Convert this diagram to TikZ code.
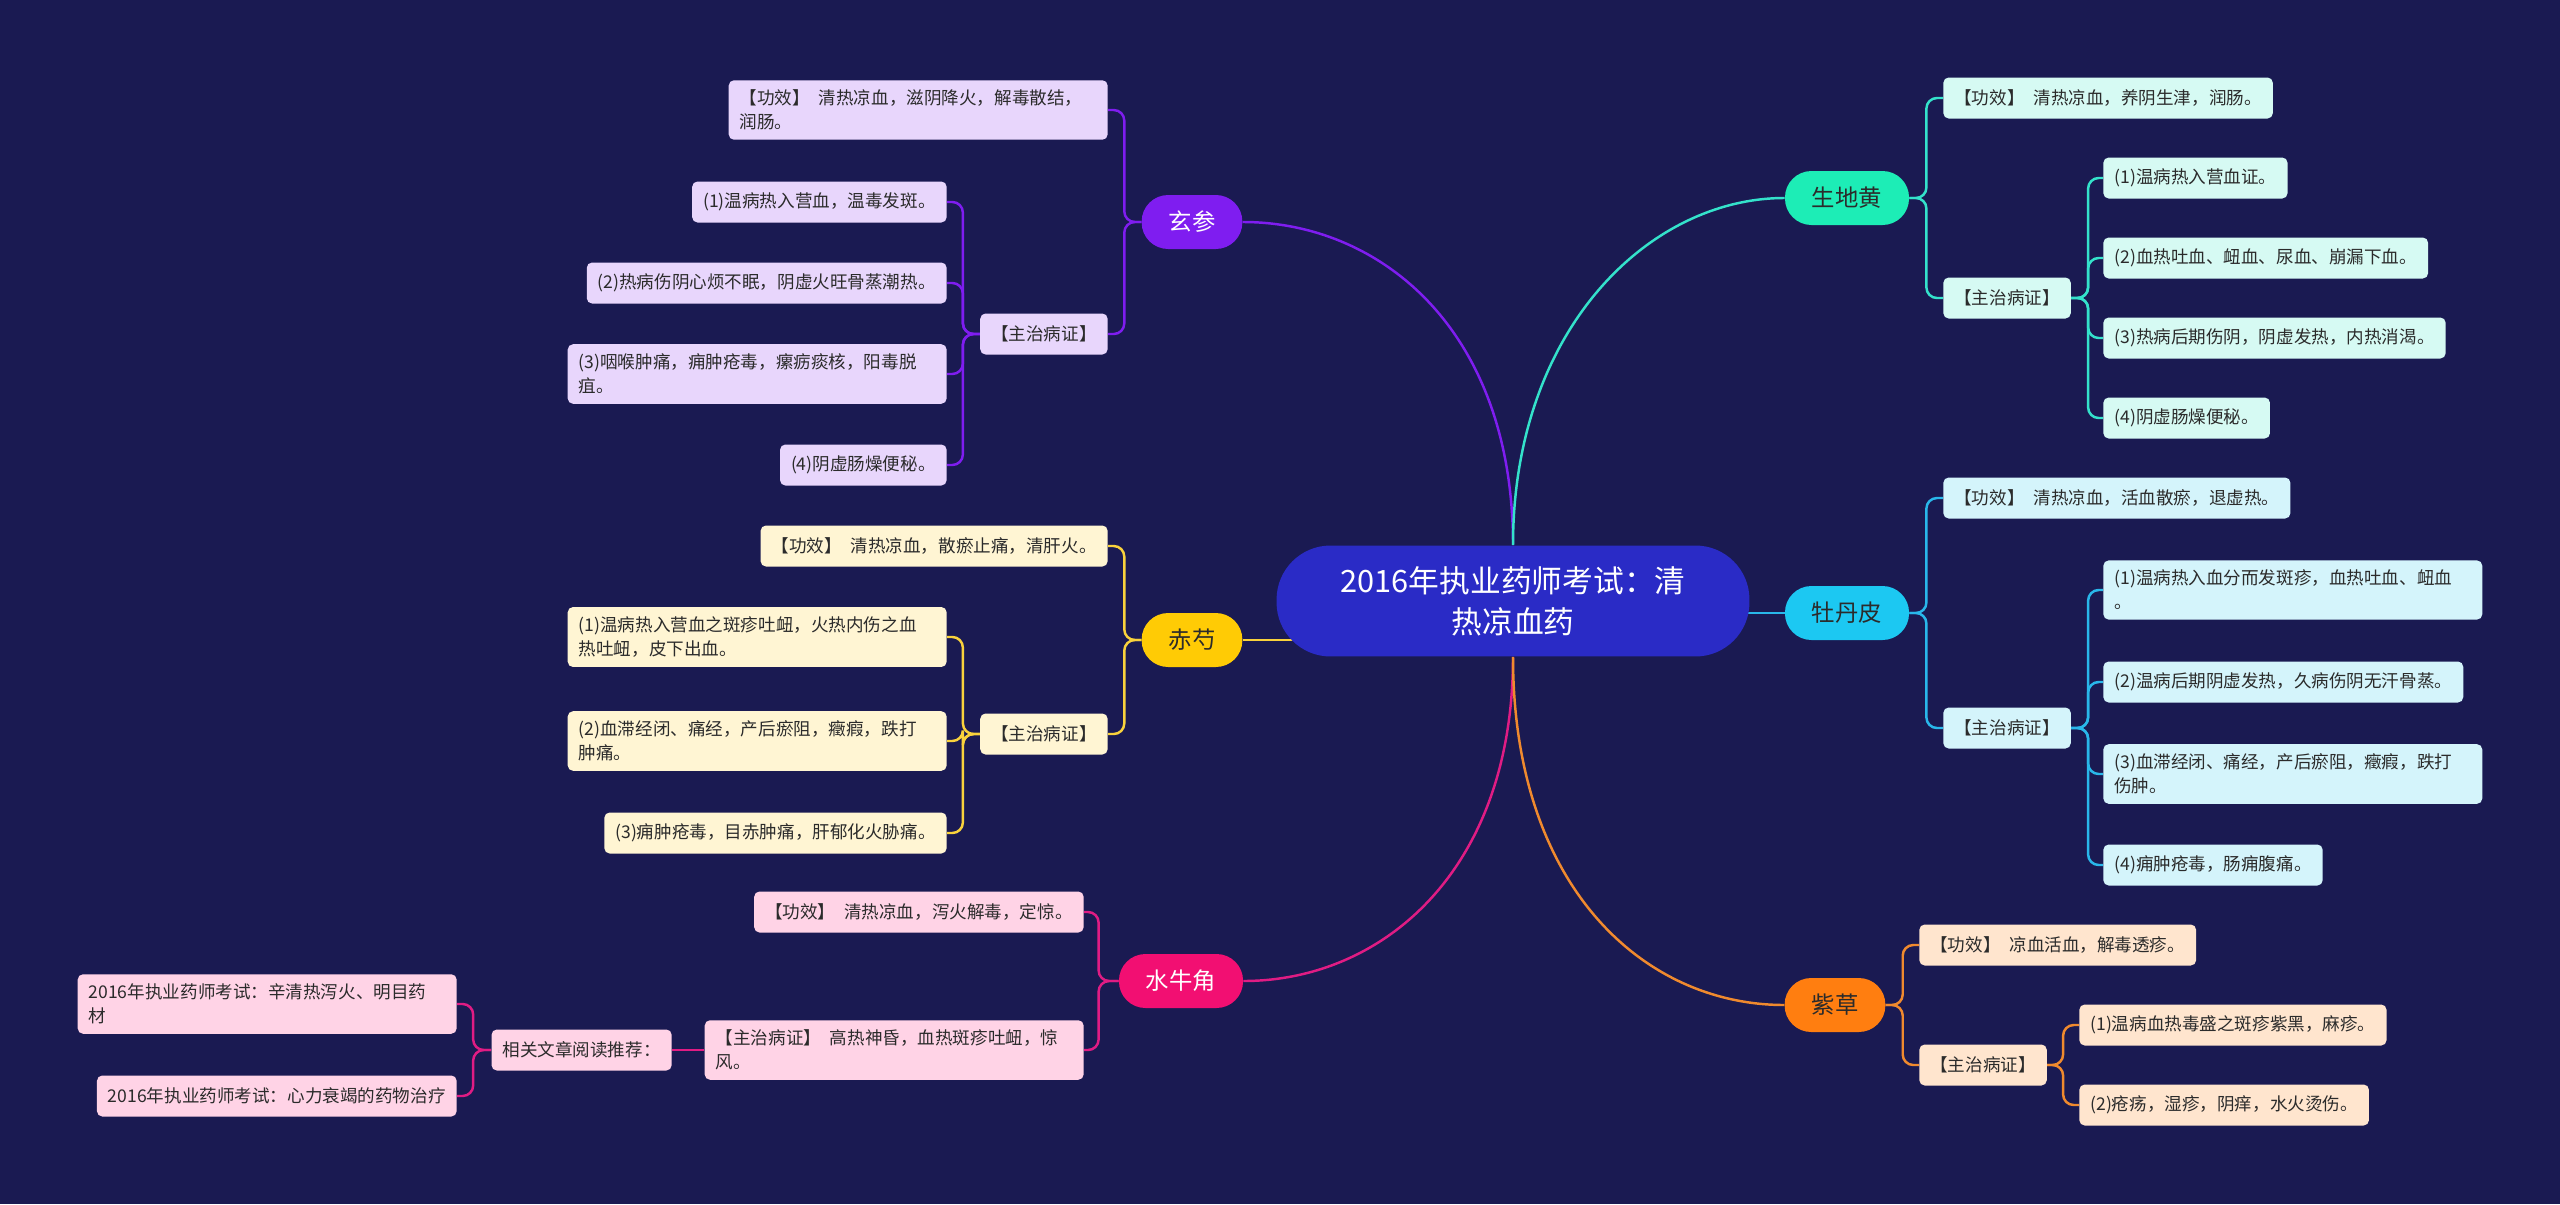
\documentclass[tikz,border=0pt]{standalone}
\usepackage{fontspec}
\setmainfont{Noto Sans CJK SC}
\usepackage{xcolor}
\usepackage{tikz}
\usetikzlibrary{backgrounds}
\definecolor{bgC}{HTML}{1A1A52}
\definecolor{hubC}{HTML}{2A2BC6}
\definecolor{txtC}{HTML}{2B2B2B}
\definecolor{xsC}{HTML}{7F1DF0}
\definecolor{xsL}{HTML}{E8D6FC}
\definecolor{csC}{HTML}{FFCB05}
\definecolor{csW}{HTML}{F9D23C}
\definecolor{csL}{HTML}{FFF5D3}
\definecolor{snC}{HTML}{F20F72}
\definecolor{snW}{HTML}{E01C84}
\definecolor{snL}{HTML}{FFD3E6}
\definecolor{sdC}{HTML}{1DEDB6}
\definecolor{sdW}{HTML}{34E2CB}
\definecolor{sdL}{HTML}{D6FAF3}
\definecolor{mdC}{HTML}{1CC8F2}
\definecolor{mdW}{HTML}{29B7EA}
\definecolor{mdL}{HTML}{D4F4FB}
\definecolor{zcC}{HTML}{FF7E10}
\definecolor{zcW}{HTML}{F08A2E}
\definecolor{zcL}{HTML}{FFE5CE}
\tikzset{
  hub/.style     ={rectangle, rounded corners=1.08cm, fill=hubC, text=white, align=center, minimum width=9.46cm, minimum height=2.22cm, font=\fontsize{17.5}{23.5}\selectfont},
  herb/.style    ={rectangle, rounded corners=0.53cm, minimum height=1.08cm, inner xsep=0.54cm, font=\fontsize{13.3}{16}\selectfont},
  leaf/.style    ={rectangle, rounded corners=3pt, align=left, inner xsep=0.22cm, inner ysep=5.5pt, minimum height=0.82cm, text=txtC, font=\fontsize{10}{13.6}\selectfont},
  longleaf/.style={text width=7.14cm},
  xsbox/.style   ={leaf, fill=xsL},
  csbox/.style   ={leaf, fill=csL},
  snbox/.style   ={leaf, fill=snL},
  sdbox/.style   ={leaf, fill=sdL},
  mdbox/.style   ={leaf, fill=mdL},
  zcbox/.style   ={leaf, fill=zcL},
  link/.style    ={line width=1.4pt, rounded corners=6pt},
  xsline/.style  ={link, draw=xsC},
  csline/.style  ={link, draw=csW},
  snline/.style  ={link, draw=snW},
  sdline/.style  ={link, draw=sdW},
  mdline/.style  ={link, draw=mdW},
  zcline/.style  ={link, draw=zcW},
}
\begin{document}
\begin{tikzpicture}[x=0.02cm, y=-0.02cm]
  \begin{scope}[on background layer]
    \fill[bgC] (0,0) rectangle (2560,1204);
  \end{scope}
  \useasboundingbox (0,0) rectangle (2560,1204);

  \node[hub] (ctr) at (1513,601) {2016年执业药师考试：清\\热凉血药};

  \node[herb, fill=xsC, text=white] (xs) at (1192,222) {玄参};
  \node[herb, fill=csC, text=txtC]  (cs) at (1192,640) {赤芍};
  \node[herb, fill=snC, text=white] (sn) at (1181,981) {水牛角};
  \node[herb, fill=sdC, text=txtC]  (sd) at (1847,198) {生地黄};
  \node[herb, fill=mdC, text=txtC]  (md) at (1847,613) {牡丹皮};
  \node[herb, fill=zcC, text=txtC]  (zc) at (1835,1005) {紫草};

  % 玄参
  \node[xsbox, longleaf, anchor=east] (xsgx) at (1108,110) {【功效】\enspace 清热凉血，滋阴降火，解毒散结，\\润肠。};
  \node[xsbox, anchor=east] (xszz) at (1108,334) {【主治病证】};
  \node[xsbox, anchor=east] (xs1) at (947,202) {(1)温病热入营血，温毒发斑。};
  \node[xsbox, anchor=east] (xs2) at (947,283) {(2)热病伤阴心烦不眠，阴虚火旺骨蒸潮热。};
  \node[xsbox, longleaf, anchor=east] (xs3) at (947,374) {(3)咽喉肿痛，痈肿疮毒，瘰疬痰核，阳毒脱\\疽。};
  \node[xsbox, anchor=east] (xs4) at (947,465) {(4)阴虚肠燥便秘。};

  % 赤芍
  \node[csbox, anchor=east] (csgx) at (1108,546) {【功效】\enspace 清热凉血，散瘀止痛，清肝火。};
  \node[csbox, anchor=east] (cszz) at (1108,734) {【主治病证】};
  \node[csbox, longleaf, anchor=east] (cs1) at (947,637) {(1)温病热入营血之斑疹吐衄，火热内伤之血\\热吐衄，皮下出血。};
  \node[csbox, longleaf, anchor=east] (cs2) at (947,741) {(2)血滞经闭、痛经，产后瘀阻，癥瘕，跌打\\肿痛。};
  \node[csbox, anchor=east] (cs3) at (947,833) {(3)痈肿疮毒，目赤肿痛，肝郁化火胁痛。};

  % 水牛角
  \node[snbox, anchor=east] (sngx) at (1084,912) {【功效】\enspace 清热凉血，泻火解毒，定惊。};
  \node[snbox, longleaf, anchor=east] (snzz) at (1084,1050) {【主治病证】\enspace 高热神昏，血热斑疹吐衄，惊\\风。};
  \node[snbox, anchor=east] (snxg) at (672,1050) {相关文章阅读推荐：};
  \node[snbox, longleaf, anchor=east] (snr1) at (457,1004) {2016年执业药师考试：辛清热泻火、明目药\\材};
  \node[snbox, anchor=east] (snr2) at (457,1096) {2016年执业药师考试：心力衰竭的药物治疗};

  % 生地黄
  \node[sdbox, anchor=west] (sdgx) at (1943,98) {【功效】\enspace 清热凉血，养阴生津，润肠。};
  \node[sdbox, anchor=west] (sdzz) at (1943,298) {【主治病证】};
  \node[sdbox, anchor=west] (sd1) at (2103,178) {(1)温病热入营血证。};
  \node[sdbox, anchor=west] (sd2) at (2103,258) {(2)血热吐血、衄血、尿血、崩漏下血。};
  \node[sdbox, anchor=west] (sd3) at (2103,338) {(3)热病后期伤阴，阴虚发热，内热消渴。};
  \node[sdbox, anchor=west] (sd4) at (2103,418) {(4)阴虚肠燥便秘。};

  % 牡丹皮
  \node[mdbox, anchor=west] (mdgx) at (1943,498) {【功效】\enspace 清热凉血，活血散瘀，退虚热。};
  \node[mdbox, anchor=west] (mdzz) at (1943,728) {【主治病证】};
  \node[mdbox, longleaf, anchor=west] (md1) at (2103,590) {(1)温病热入血分而发斑疹，血热吐血、衄血\\。};
  \node[mdbox, anchor=west] (md2) at (2103,682) {(2)温病后期阴虚发热，久病伤阴无汗骨蒸。};
  \node[mdbox, longleaf, anchor=west] (md3) at (2103,774) {(3)血滞经闭、痛经，产后瘀阻，癥瘕，跌打\\伤肿。};
  \node[mdbox, anchor=west] (md4) at (2103,865) {(4)痈肿疮毒，肠痈腹痛。};

  % 紫草
  \node[zcbox, anchor=west] (zcgx) at (1919,945) {【功效】\enspace 凉血活血，解毒透疹。};
  \node[zcbox, anchor=west] (zczz) at (1919,1065) {【主治病证】};
  \node[zcbox, anchor=west] (zc1) at (2079,1025) {(1)温病血热毒盛之斑疹紫黑，麻疹。};
  \node[zcbox, anchor=west] (zc2) at (2079,1105) {(2)疮疡，湿疹，阴痒，水火烫伤。};

  \begin{scope}[on background layer]
    \draw[xsline] (ctr.north) .. controls +(0,-215) and +(138,0) .. (xs.east);
    \draw[sdline] (ctr.north) .. controls +(0,-215) and +(-136,0) .. (sd.west);
    \draw[snline] (ctr.south) .. controls +(0,215) and +(138,0) .. (sn.east);
    \draw[zcline] (ctr.south) .. controls +(0,232) and +(-139,0) .. (zc.west);
    \draw[csline] (cs.east) -- (cs.east -| ctr.center);
    \draw[mdline] (md.west) -- (md.west -| ctr.center);

    \foreach \k in {xsgx,xszz} \draw[xsline] (xs.west) -- ++(-17,0) |- (\k.east);
    \foreach \k in {xs1,xs2,xs3,xs4} \draw[xsline] (xszz.west) -- ++(-17,0) |- (\k.east);
    \foreach \k in {csgx,cszz} \draw[csline] (cs.west) -- ++(-17,0) |- (\k.east);
    \foreach \k in {cs1,cs2,cs3} \draw[csline] (cszz.west) -- ++(-17,0) |- (\k.east);
    \foreach \k in {sngx,snzz} \draw[snline] (sn.west) -- ++(-20,0) |- (\k.east);
    \draw[snline] (snzz.west) -- (snxg.east);
    \foreach \k in {snr1,snr2} \draw[snline] (snxg.west) -- ++(-18,0) |- (\k.east);

    \foreach \k in {sdgx,sdzz} \draw[sdline] (sd.east) -- ++(17,0) |- (\k.west);
    \foreach \k in {sd1,sd2,sd3,sd4} \draw[sdline] (sdzz.east) -- ++(17,0) |- (\k.west);
    \foreach \k in {mdgx,mdzz} \draw[mdline] (md.east) -- ++(17,0) |- (\k.west);
    \foreach \k in {md1,md2,md3,md4} \draw[mdline] (mdzz.east) -- ++(17,0) |- (\k.west);
    \foreach \k in {zcgx,zczz} \draw[zcline] (zc.east) -- ++(17,0) |- (\k.west);
    \foreach \k in {zc1,zc2} \draw[zcline] (zczz.east) -- ++(16,0) |- (\k.west);
  \end{scope}
\end{tikzpicture}
\end{document}
